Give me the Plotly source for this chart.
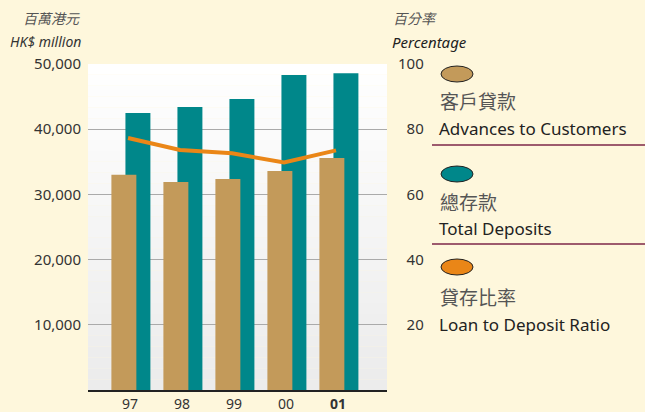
import plotly.graph_objects as go

years = ["97", "98", "99", "00", "01"]
tick_text = ["97", "98", "99", "00", "<b>01</b>"]
advances = [33000, 31900, 32350, 33600, 35600]
deposits = [42500, 43400, 44650, 48300, 48600]
ratio = [77.3, 73.6, 72.6, 69.8, 73.5]

left_ticks = [10000, 20000, 30000, 40000, 50000]
left_labels = ["10,000", "20,000", "30,000", "40,000", "50,000"]
right_ticks = [20, 40, 60, 80, 100]
right_labels = ["\u200720", "\u200740", "\u200760", "\u200780", "100"]

legend_cn = ["客戶貸款", "總存款", "貸存比率"]
legend_en = ["Advances to Customers", "Total Deposits", "Loan to Deposit Ratio"]

TAN = "#c39a5a"
TEAL = "#00878a"
ORANGE = "#ea8617"
CREAM = "#fef7dc"
FONT = "Noto Sans, Noto Sans CJK TC, sans-serif"
CJK = "Noto Sans CJK TC, sans-serif"

W, H = 645, 412
PL, PR, PT, PB = 88, 387, 64, 390
PW, PH = PR - PL, PB - PT


def px(x):
    return (x - PL) / PW


def py(y):
    return (PB - y) / PH


xs = list(range(len(years)))

fig = go.Figure()
fig.add_trace(go.Bar(x=xs, y=deposits, width=0.48, offset=-0.09,
                     marker=dict(color=TEAL, line=dict(width=0)), name="Total Deposits"))
fig.add_trace(go.Bar(x=xs, y=advances, width=0.48, offset=-0.36,
                     marker=dict(color=TAN, line=dict(width=0)), name="Advances"))
fig.add_trace(go.Scatter(x=[x - 0.04 for x in xs], y=ratio, yaxis="y2", mode="lines",
                         line=dict(color=ORANGE, width=4), name="Ratio"))

# plot background gradient (white -> light gray)
n = 30
for i in range(n):
    g = int(255 - (255 - 236) * (i / (n - 1)))
    fig.add_shape(type="rect", xref="paper", yref="paper", x0=0, x1=1,
                  y0=1 - (i + 1) / n, y1=1 - i / n, layer="below",
                  line=dict(width=0), fillcolor=f"rgb({g},{g},{g})")

# legend markers and texts
ell_y = [74, 174, 267]
cn_y = [100, 201, 296]
en_y = [128, 228, 324]
colors = [TAN, TEAL, ORANGE]
for i in range(3):
    cy = ell_y[i]
    fig.add_shape(type="circle", xref="paper", yref="paper",
                  x0=px(441), x1=px(473), y0=py(cy + 8), y1=py(cy - 8),
                  fillcolor=colors[i], line=dict(color="#222", width=1))
    fig.add_annotation(xref="paper", yref="paper", x=px(438), y=py(cn_y[i]),
                       text=legend_cn[i], showarrow=False, xanchor="left", yanchor="middle",
                       font=dict(family=CJK, size=19, color="#555"))
    fig.add_annotation(xref="paper", yref="paper", x=px(437), y=py(en_y[i]),
                       text=legend_en[i], showarrow=False, xanchor="left", yanchor="middle",
                       font=dict(family=FONT, size=17, color="#222"))
for ly in [145, 244]:
    fig.add_shape(type="line", xref="paper", yref="paper",
                  x0=px(432), x1=px(645), y0=py(ly), y1=py(ly),
                  line=dict(color="#7d2748", width=1.5))

# axis titles
fig.add_annotation(xref="paper", yref="paper", x=px(82), y=py(18),
                   text="<i>百萬港元</i>", showarrow=False, xanchor="right", yanchor="middle",
                   font=dict(family=CJK, size=14, color="#555"))
fig.add_annotation(xref="paper", yref="paper", x=px(83), y=py(42),
                   text="<i>HK$ million</i>", showarrow=False, xanchor="right", yanchor="middle",
                   font=dict(family=FONT, size=14, color="#333"))
fig.add_annotation(xref="paper", yref="paper", x=px(391), y=py(18),
                   text="<i>百分率</i>", showarrow=False, xanchor="left", yanchor="middle",
                   font=dict(family=CJK, size=14, color="#555"))
fig.add_annotation(xref="paper", yref="paper", x=px(390), y=py(42),
                   text="<i>Percentage</i>", showarrow=False, xanchor="left", yanchor="middle",
                   font=dict(family=FONT, size=15, color="#222"))

fig.update_layout(
    width=W, height=H,
    margin=dict(l=PL, r=W - PR, t=PT, b=H - PB, autoexpand=False),
    paper_bgcolor=CREAM, plot_bgcolor="rgba(0,0,0,0)",
    barmode="overlay", showlegend=False,
    font=dict(family=FONT, size=15, color="#333"),
    xaxis=dict(range=[-0.81, 4.94], tickvals=xs, ticktext=tick_text, showgrid=False,
               zeroline=False, showline=True, linecolor="#222", linewidth=2,
               ticks="", ticklabelstandoff=0, tickfont=dict(size=14, color="#333"),
               automargin=False, fixedrange=True),
    yaxis=dict(range=[0, 50000], tickvals=left_ticks, ticktext=left_labels,
               showgrid=True, gridcolor="#aaaaaa", gridwidth=1, zeroline=False,
               ticks="", ticklabelstandoff=6, tickfont=dict(size=15, color="#333"), automargin=False),
    yaxis2=dict(range=[0, 100], overlaying="y", side="right", tickvals=right_ticks,
                ticktext=right_labels, showgrid=False, zeroline=False, ticks="",
                ticklabelstandoff=10, tickfont=dict(size=15, color="#333"), automargin=False),
)

fig.write_html("out.html", config={"displayModeBar": False},
               post_script="document.body.style.margin='0px';")
